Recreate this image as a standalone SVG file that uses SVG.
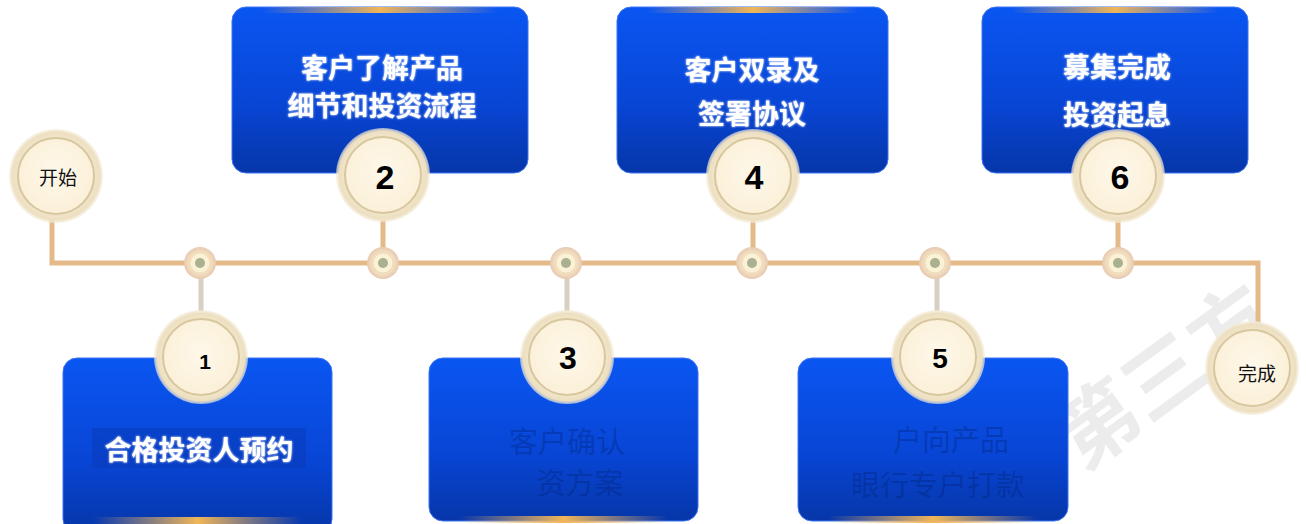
<svg xmlns="http://www.w3.org/2000/svg" width="1306" height="524" viewBox="0 0 1306 524">
<defs>
<linearGradient id="boxg" x1="0" y1="0" x2="0" y2="1">
<stop offset="0" stop-color="#0a56f2"/>
<stop offset="0.6" stop-color="#0845d4"/>
<stop offset="1" stop-color="#0636a8"/>
</linearGradient>
<linearGradient id="goldh" x1="0" y1="0" x2="1" y2="0">
<stop offset="0" stop-color="#e8b060" stop-opacity="0"/>
<stop offset="0.5" stop-color="#f0b658" stop-opacity="1"/>
<stop offset="1" stop-color="#e8b060" stop-opacity="0"/>
</linearGradient>
<radialGradient id="outerg" cx="0.5" cy="0.5" r="0.5">
<stop offset="0.8" stop-color="#f1e6cb"/>
<stop offset="0.93" stop-color="#eddfc0"/>
<stop offset="1" stop-color="#f4ecd9" stop-opacity="0.6"/>
</radialGradient>
<radialGradient id="innerg" cx="0.5" cy="0.45" r="0.55">
<stop offset="0" stop-color="#fef8ea"/>
<stop offset="1" stop-color="#fbf0d8"/>
</radialGradient>
<radialGradient id="dotg" cx="0.5" cy="0.5" r="0.5">
<stop offset="0.55" stop-color="#f7e8c8"/>
<stop offset="1" stop-color="#e7c8b0"/>
</radialGradient>
<filter id="glow" x="-10%" y="-30%" width="120%" height="160%">
<feGaussianBlur stdDeviation="1.2" result="b"/>
<feMerge><feMergeNode in="b"/><feMergeNode in="SourceGraphic"/></feMerge>
</filter>
<g id="dot">
<circle r="16" fill="url(#dotg)"/>
<circle r="10" fill="#fbf1d6" stroke="#f0dcb4" stroke-width="1"/>
<circle r="5" fill="#a9b190"/>
</g>
<g id="badge">
<circle r="47" fill="url(#outerg)"/>
<circle r="38" fill="url(#innerg)" stroke="#d8c69f" stroke-width="2"/>
</g>
</defs>
<style>
.line{stroke:#e4bb88;stroke-width:5;fill:none}
.stub{stroke:#d9cfc2;stroke-width:5;fill:none}
.box{fill:url(#boxg);stroke:#3d74f0;stroke-width:1}
.wt{font-family:"Noto Sans CJK SC","Liberation Sans",sans-serif;font-weight:700;font-size:27px;fill:#ffffff;text-anchor:middle;dominant-baseline:central}
.ft{font-family:"Noto Sans CJK SC","Liberation Sans",sans-serif;font-weight:400;font-size:29px;fill:#001a60;fill-opacity:0.28;text-anchor:middle;dominant-baseline:central}
.num{font-family:"Liberation Sans",Arial,sans-serif;font-weight:700;fill:#000;text-anchor:middle;dominant-baseline:central}
.lbl{font-family:"Noto Sans CJK SC","Liberation Sans",sans-serif;font-size:19px;fill:#111;text-anchor:middle;dominant-baseline:central}
.wm{font-family:"Noto Sans CJK SC","Liberation Sans",sans-serif;font-weight:700;font-size:82px;fill:#ececec}
</style>
<rect width="1306" height="524" fill="#ffffff"/>
<text class="wm" transform="translate(1082,472) rotate(-36)">第三方</text>

<g id="connectors">
<path class="line" d="M52,218 V263 H1258 V322"/>
<path class="line" d="M383,220 V263"/>
<path class="line" d="M753,220 V263"/>
<path class="line" d="M1118,220 V263"/>
<path class="stub" d="M201,263 V311"/>
<path class="stub" d="M567,263 V311"/>
<path class="stub" d="M937,263 V311"/>
<use href="#dot" x="200" y="263"/>
<use href="#dot" x="383" y="263"/>
<use href="#dot" x="566" y="263"/>
<use href="#dot" x="752" y="263"/>
<use href="#dot" x="935" y="263"/>
<use href="#dot" x="1118" y="263"/>
</g>

<g id="start">
<use href="#badge" x="56" y="176"/>
<text class="lbl" x="58" y="176">开始</text>
</g>
<g id="finish">
<use href="#badge" x="1252" y="368"/>
<text class="lbl" x="1257" y="372">完成</text>
</g>

<g id="step2">
<rect class="box" x="232" y="7" width="296" height="166" rx="14"/>
<rect x="262" y="7" width="236" height="6" fill="url(#goldh)"/>
<text class="wt" filter="url(#glow)" x="382" y="66">客户了解产品</text>
<text class="wt" filter="url(#glow)" x="382" y="104">细节和投资流程</text>
<use href="#badge" x="383" y="175"/>
<text class="num" font-size="34" x="385" y="177">2</text>
</g>

<g id="step4">
<rect class="box" x="617" y="7" width="271" height="166" rx="14"/>
<rect x="647" y="7" width="211" height="6" fill="url(#goldh)"/>
<text class="wt" filter="url(#glow)" x="752" y="68">客户双录及</text>
<text class="wt" filter="url(#glow)" x="752" y="112">签署协议</text>
<use href="#badge" x="753" y="176"/>
<text class="num" font-size="34" x="754" y="177">4</text>
</g>

<g id="step6">
<rect class="box" x="982" y="7" width="266" height="166" rx="14"/>
<rect x="1012" y="7" width="206" height="6" fill="url(#goldh)"/>
<text class="wt" filter="url(#glow)" x="1117" y="65">募集完成</text>
<text class="wt" filter="url(#glow)" x="1117" y="113">投资起息</text>
<use href="#badge" x="1118" y="176"/>
<text class="num" font-size="34" x="1120" y="177">6</text>
</g>

<g id="step1">
<rect class="box" x="63" y="358" width="269" height="175" rx="14"/>
<rect x="93" y="517" width="209" height="7" fill="url(#goldh)"/>
<rect x="92" y="428" width="214" height="40" fill="#0838b4" opacity="0.45"/>
<text class="wt" font-size="29" filter="url(#glow)" x="199" y="448">合格投资人预约</text>
<use href="#badge" x="201" y="357"/>
<text class="num" font-size="21" x="205" y="361">1</text>
</g>

<g id="step3">
<rect class="box" x="429" y="358" width="269" height="163" rx="14"/>
<rect x="459" y="516" width="209" height="7" fill="url(#goldh)"/>
<text class="ft" x="567" y="440">客户确认</text>
<text class="ft" x="580" y="481">资方案</text>
<use href="#badge" x="567" y="357"/>
<text class="num" font-size="32" x="568" y="358">3</text>
</g>

<g id="step5">
<rect class="box" x="798" y="358" width="270" height="163" rx="14"/>
<rect x="828" y="516" width="210" height="7" fill="url(#goldh)"/>
<text class="ft" x="951" y="438">户向产品</text>
<text class="ft" x="938" y="483">眼行专户打款</text>
<use href="#badge" x="938" y="357"/>
<text class="num" font-size="28" x="940" y="358">5</text>
</g>
</svg>
